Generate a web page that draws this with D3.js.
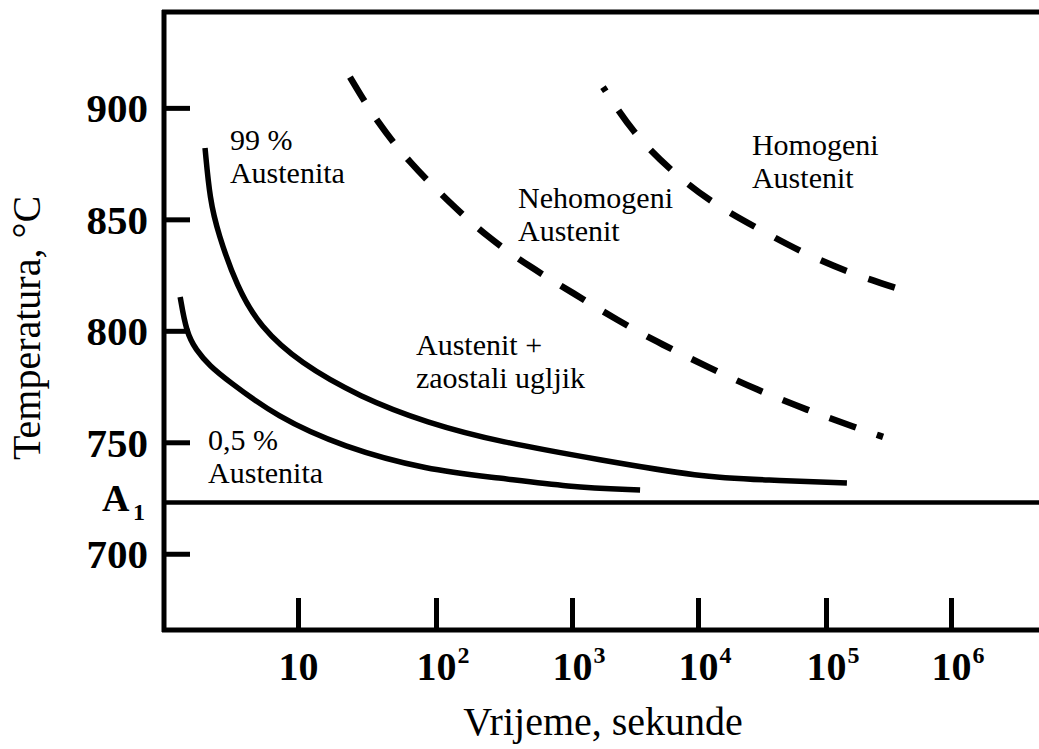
<!DOCTYPE html>
<html>
<head>
<meta charset="utf-8">
<script src="https://cdn.jsdelivr.net/npm/d3@7"></script>
<style>
  html, body { margin: 0; padding: 0; background: #fff; }
  svg { display: block; }
  text { font-family: "Liberation Serif", "Times New Roman", serif; fill: #000; }
</style>
</head>
<body>
<svg id="chart" width="1039" height="749"></svg>
<script>
// ---- data ----
const xTickValues = [10, 100, 1000, 10000, 100000, 1000000];
const xTickExponents = ["", "2", "3", "4", "5", "6"];
const yTickValues = [700, 750, 800, 850, 900];
const a1Temperature = 723;

// 99 % Austenita (solid)
const curve99Time = [2.12, 2.30, 2.63, 3.61, 5.31, 10.3, 28.1, 86.1, 296, 1668, 10370, 34600, 147000];
const curve99Temp = [882, 858.7, 843.9, 819.6, 801.7, 785.6, 770.3, 758.7, 750.1, 742.1, 734.4, 733.1, 731.7];

// 0,5 % Austenita (solid)
const curve05Time = [1.40, 1.55, 1.82, 2.30, 3.06, 7.05, 21.2, 86.1, 296, 918, 3470];
const curve05Temp = [815.2, 799.5, 791.4, 784.2, 777.9, 761.3, 747.9, 737.6, 734.0, 730.0, 728.6];

// Nehomogeni Austenit boundary (dashed)
const nehomTime = [23.8, 37.3, 64.9, 120, 237, 491, 1018, 2275, 5275, 12400, 28900, 71100, 177000, 286000];
const nehomTemp = [913.8, 893.6, 875.2, 858.7, 842.1, 828.6, 817.0, 804.8, 793.6, 783.3, 773.5, 764.5, 756.4, 752.4];

// Homogeni Austenit boundary (dashed)
const homTime = [1762, 3048, 5995, 12850, 28900, 66100, 155600, 405500];
const homTemp = [909.3, 888.7, 872.1, 857.3, 846.1, 834.9, 825.9, 818.3];

const regionLabels = [
  { lines: ["99 %", "Austenita"], t: 3.21, T: 881.1 },
  { lines: ["0,5 %", "Austenita"], t: 2.23, T: 746.5 },
  { lines: ["Austenit +", "zaostali ugljik"], t: 71.6, T: 789.1 },
  { lines: ["Nehomogeni", "Austenit"], t: 401, T: 855.1 },
  { lines: ["Homogeni", "Austenit"], t: 26400, T: 878.8 }
];

// ---- layout ----
const svg = d3.select("#chart");
const mLeft = 164, mRight = 1039, mTop = 12, mBottom = 630;

// piecewise log scale so the decade ticks sit where the reference puts them
const x = d3.scaleLog()
  .domain([1.069, 10, 100, 1000, 10000, 100000, 1000000, 5.06e6])
  .range([mLeft, 298, 436, 572, 698, 826, 951, mRight]);
const y = d3.scaleLinear().domain([665.8, 943]).range([mBottom, mTop]);

const zip = (a, b) => a.map((v, i) => [v, b[i]]);
const line = d3.line().x(d => x(d[0])).y(d => y(d[1])).curve(d3.curveBasis);

// frame lines
svg.append("line").attr("x1", mLeft - 2).attr("x2", mRight).attr("y1", mTop).attr("y2", mTop)
  .attr("stroke", "#000").attr("stroke-width", 5);
svg.append("line").attr("x1", mLeft - 2).attr("x2", mRight).attr("y1", mBottom).attr("y2", mBottom)
  .attr("stroke", "#000").attr("stroke-width", 5);
svg.append("line").attr("x1", mLeft).attr("x2", mLeft).attr("y1", mTop - 2).attr("y2", mBottom + 2)
  .attr("stroke", "#000").attr("stroke-width", 5);

// A1 line
svg.append("line").attr("x1", mLeft).attr("x2", mRight)
  .attr("y1", y(a1Temperature)).attr("y2", y(a1Temperature))
  .attr("stroke", "#000").attr("stroke-width", 4.5);

// y axis
const yAxis = svg.append("g").attr("transform", `translate(${mLeft},0)`)
  .call(d3.axisLeft(y).tickValues(yTickValues).tickSizeInner(-26).tickSizeOuter(0).tickPadding(16));
yAxis.select(".domain").remove();
yAxis.selectAll(".tick line").attr("stroke", "#000").attr("stroke-width", 5);
yAxis.selectAll(".tick text")
  .style("font-family", '"Liberation Serif", serif')
  .attr("font-size", 41).attr("font-weight", "bold").attr("dy", "0.34em");

// A1 label
const a1 = svg.append("g").attr("transform", `translate(0,${y(a1Temperature)})`);
a1.append("text").attr("x", 102).attr("y", 9).attr("font-size", 38).attr("font-weight", "bold").text("A");
a1.append("text").attr("x", 133).attr("y", 18).attr("font-size", 24).attr("font-weight", "bold").text("1");

// x axis
const xAxis = svg.append("g").attr("transform", `translate(0,${mBottom})`)
  .call(d3.axisBottom(x).tickValues(xTickValues).tickSizeInner(-32).tickSizeOuter(0).tickFormat(""));
xAxis.select(".domain").remove();
xAxis.selectAll(".tick line").attr("stroke", "#000").attr("stroke-width", 5);
xAxis.selectAll(".tick text").remove();
xAxis.selectAll(".tick").each(function(d, i) {
  const g = d3.select(this);
  g.append("text").attr("x", 0).attr("y", 50).attr("text-anchor", "middle")
    .attr("font-size", 40).attr("font-weight", "bold").text("10");
  if (xTickExponents[i]) {
    g.append("text").attr("x", 21).attr("y", 33).attr("text-anchor", "start")
      .attr("font-size", 24).attr("font-weight", "bold").text(xTickExponents[i]);
  }
});

// curves
svg.append("path").datum(zip(curve99Time, curve99Temp)).attr("d", line)
  .attr("fill", "none").attr("stroke", "#000").attr("stroke-width", 5.5);
svg.append("path").datum(zip(curve05Time, curve05Temp)).attr("d", line)
  .attr("fill", "none").attr("stroke", "#000").attr("stroke-width", 5.5);
svg.append("path").datum(zip(nehomTime, nehomTemp)).attr("d", line)
  .attr("fill", "none").attr("stroke", "#000").attr("stroke-width", 6.5)
  .attr("stroke-dasharray", "28 22");
svg.append("path").datum(zip(homTime, homTemp)).attr("d", line)
  .attr("fill", "none").attr("stroke", "#000").attr("stroke-width", 6.5)
  .attr("stroke-dasharray", "28 23").attr("stroke-dashoffset", 23);

// region labels
regionLabels.forEach(l => {
  const t = svg.append("text").attr("x", x(l.t)).attr("y", y(l.T)).attr("font-size", 30);
  l.lines.forEach((s, i) => {
    t.append("tspan").attr("x", x(l.t)).attr("dy", i === 0 ? 0 : 33).text(s);
  });
});

// axis titles
svg.append("text").attr("transform", "translate(40,328) rotate(-90)")
  .attr("text-anchor", "middle").attr("font-size", 40).text("Temperatura, °C");
svg.append("text").attr("x", 603).attr("y", 735)
  .attr("text-anchor", "middle").attr("font-size", 40).text("Vrijeme, sekunde");
</script>
</body>
</html>
